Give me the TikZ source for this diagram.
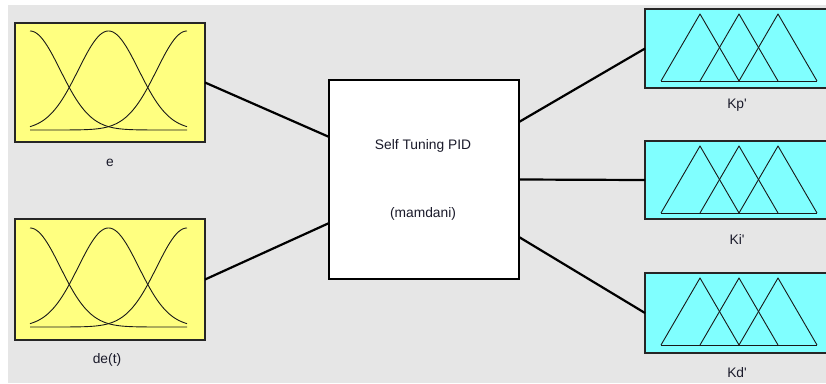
\documentclass[tikz,border=0pt]{standalone}
\usepackage{fontspec}
\setmainfont{Liberation Sans}[Ligatures=TeXOff]
\usetikzlibrary{calc}
\definecolor{bgray}{HTML}{E6E6E6}
\definecolor{inyel}{HTML}{FFFF80}
\definecolor{outcy}{HTML}{80FFFF}
\definecolor{txt}{HTML}{1A1A2A}
\begin{document}
\begin{tikzpicture}[x=1pt,y=-1pt,
  inbox/.style={draw=black!85, line width=1.3pt, fill=inyel, inner sep=0pt, outer sep=0pt, anchor=north west, minimum width=190pt},
  outbox/.style={draw=black!85, line width=1.3pt, fill=outcy, inner sep=0pt, outer sep=0pt, anchor=north west, minimum width=190pt},
  fisbox/.style={draw=black, line width=2.2pt, fill=white, inner sep=0pt, outer sep=0pt, anchor=north west, minimum width=190pt, minimum height=199pt},
  conn/.style={draw=black, line width=2.2pt},
  mfcurve/.style={draw=black!90, line width=0.9pt, line join=round},
  lbl/.style={text=txt, font=\fontsize{13.8}{16}\selectfont, inner sep=0pt}]
\useasboundingbox (0,0) rectangle (826,383);
\begin{scope}
\clip (0,0) rectangle (826,383);
\fill[white] (0,0) rectangle (826,383);
\fill[bgray] (8,5) rectangle (826,383);

% input boxes
\node[inbox, minimum height=119pt] (e) at (15,23) {};
\node[inbox, minimum height=121pt] (de) at (15,219) {};

% gaussian membership functions
\foreach \sh in {0,197}{
  \begin{scope}[shift={(0,\sh)}]
    \foreach \cc in {30,108.5,187}{
      \draw[mfcurve] plot[domain=30:187,samples=120] (\x,{130-99*exp(-0.5*((\x-\cc)/30.2)^2)});
    }
  \end{scope}
}

% central FIS box
\node[fisbox] (fis) at (329,80) {};
\node[lbl] (t1) at (423,146) {Self Tuning PID};
\node[lbl] (t2) at (423,214) {(mamdani)};

% output boxes
\node[outbox, minimum height=79pt] (kp) at (645,9) {};
\node[outbox, minimum height=78pt] (ki) at (645,141) {};
\node[outbox, minimum height=80pt] (kd) at (645,273) {};

% triangular membership functions
\foreach \tp in {9,141,273}{
  \begin{scope}[shift={(0,\tp)}]
    \foreach \ap in {700,739,778}{
      \draw[mfcurve] ({\ap-39},72) -- (\ap,5) -- ({\ap+39},72);
    }
    \draw[mfcurve] (661,72) -- (817,72);
  \end{scope}
}

% labels
\node[lbl] (le) at (110,163) {e};
\node[lbl] (lde) at (107,360) {de(t)};
\node[lbl] (lkp) at (737,105) {Kp'};
\node[lbl] (lki) at (737,239) {Ki'};
\node[lbl] (lkd) at (737,373) {Kd'};

% connectors
\draw[conn] (e.east) -- ($(fis.north west)!0.286!(fis.south west)$);
\draw[conn] (de.east) -- ($(fis.north west)!0.719!(fis.south west)$);
\draw[conn] ($(fis.north east)!0.211!(fis.south east)$) -- (kp.west);
\draw[conn] (fis.east) -- (ki.west);
\draw[conn] ($(fis.north east)!0.789!(fis.south east)$) -- (kd.west);
\end{scope}
\end{tikzpicture}
\end{document}
